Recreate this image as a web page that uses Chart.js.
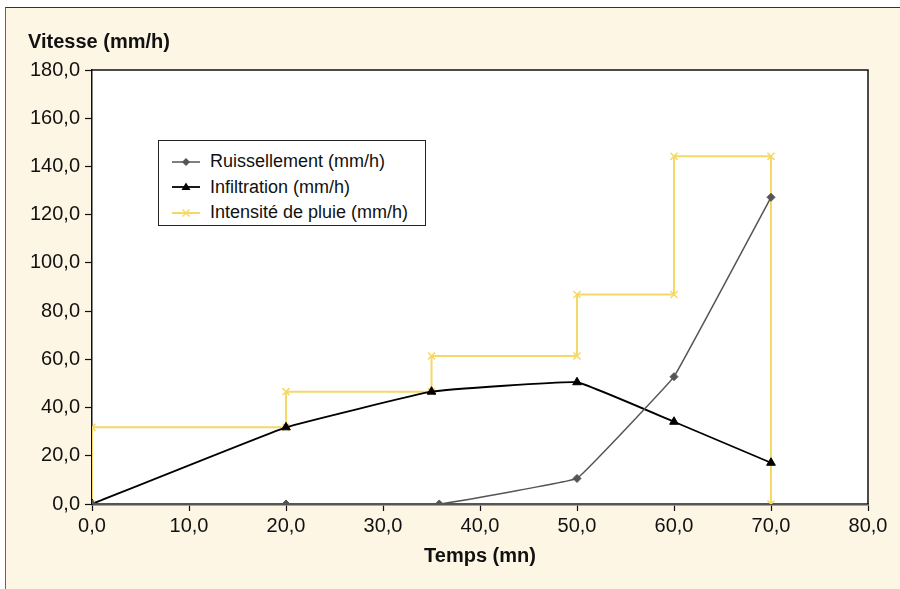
<!DOCTYPE html>
<html><head><meta charset="utf-8">
<script src="https://cdn.jsdelivr.net/npm/chart.js@4/dist/chart.umd.min.js"></script>
<style>
html,body{margin:0;padding:0;background:#fff;}
#wrap{position:relative;width:900px;height:589px;overflow:hidden;background:#fff;}
#frame{position:absolute;left:5px;top:7px;width:900px;height:590px;background:#fdf6e4;border-left:1.5px solid #666;border-top:1.5px solid #333;}
canvas{position:absolute;left:0;top:0;}
#legend{position:absolute;left:158px;top:140px;width:268px;height:86px;border:1.5px solid #222;background:#fff;font-family:"Liberation Sans",Arial,sans-serif;font-size:18px;color:#111;box-sizing:border-box;padding-top:8px;}
#legend .row{height:25.5px;line-height:25.5px;display:flex;align-items:center;white-space:nowrap;}
#legend svg{margin-left:13px;margin-right:10px;}
</style></head>
<body>
<div id="wrap">
<div id="frame"></div>
<canvas id="c" width="900" height="589"></canvas>
<div id="legend"></div>
</div>
<script>
// ---- data ----
const seriesNames = ["Ruissellement (mm/h)", "Infiltration (mm/h)", "Intensité de pluie (mm/h)"];
const timeRuissellement = [0, 20, 35.8, 50, 60, 70];
const ruissellement = [0, 0, 0, 10.6, 52.8, 127.2];
const timeInfiltration = [0, 20, 35, 50, 60, 70];
const infiltration = [0, 31.8, 46.6, 50.5, 34.1, 17.1];
const timePluie = [0, 0, 20, 20, 35, 35, 50, 50, 60, 60, 70, 70];
const intensitePluie = [0, 31.8, 31.8, 46.6, 46.6, 61.4, 61.4, 86.9, 86.9, 144.2, 144.2, 0];
const xTicks = [0, 10, 20, 30, 40, 50, 60, 70, 80];
const yTicks = [0, 20, 40, 60, 80, 100, 120, 140, 160, 180];
const xTitle = "Temps (mn)";
const yTitle = "Vitesse (mm/h)";

const FONT = '"Liberation Sans", Arial, Helvetica, sans-serif';
const colors = ["#555555", "#000000", "#f6d867"];
const styles = ["rectRot", "triangle", "crossRot"];

function pts(xs, ys){ return xs.map((x,i)=>({x:x, y:ys[i]})); }
const fmt = v => Number(v).toFixed(1).replace('.', ',');

const bgPlugin = {
  id:'bg',
  beforeDraw(chart){
    const {ctx, chartArea:a} = chart;
    ctx.save(); ctx.fillStyle='#fff'; ctx.fillRect(a.left,a.top,a.right-a.left,a.bottom-a.top); ctx.restore();
  },
  afterDraw(chart){
    const {ctx, chartArea:a} = chart;
    ctx.save();
    ctx.strokeStyle='#111'; ctx.lineWidth=1.5;
    ctx.beginPath(); ctx.moveTo(a.left,a.top); ctx.lineTo(a.right,a.top); ctx.lineTo(a.right,a.bottom); ctx.stroke();
    ctx.restore();
  }
};

const chart = new Chart(document.getElementById('c'), {
  type:'line',
  data:{
    datasets:[
      {label:seriesNames[0], data:pts(timeRuissellement, ruissellement), borderColor:colors[0], backgroundColor:colors[0], borderWidth:1.5, pointStyle:styles[0], pointRadius:4, pointBorderWidth:1, tension:0.05},
      {label:seriesNames[1], data:pts(timeInfiltration, infiltration), borderColor:colors[1], backgroundColor:colors[1], borderWidth:1.8, pointStyle:styles[1], pointRadius:5, pointBorderWidth:1, tension:0.08},
      {label:seriesNames[2], data:pts(timePluie, intensitePluie), borderColor:colors[2], backgroundColor:colors[2], borderWidth:2, pointStyle:styles[2], pointRadius:5, pointBorderWidth:1.5, tension:0}
    ]
  },
  options:{
    responsive:false, animation:false, devicePixelRatio:1,
    layout:{padding:{left:28, right:32, top:0, bottom:0}},
    plugins:{
      legend:{display:false}, tooltip:{enabled:false},
      title:{display:true, text:yTitle, align:'start', color:'#111', font:{family:FONT, size:20, weight:'bold'}, padding:{top:30, bottom:16}}
    },
    scales:{
      x:{type:'linear', min:0, max:80,
        afterBuildTicks(s){ s.ticks = xTicks.map(v=>({value:v})); },
        afterFit(s){ s.height = 85; },
        ticks:{callback:fmt, color:'#111', font:{family:FONT, size:20}, padding:3, maxRotation:0, autoSkip:false},
        grid:{display:true, drawOnChartArea:false, drawTicks:true, tickLength:7, tickColor:'#111', tickWidth:1.2},
        border:{display:true, color:'#555', width:2.5},
        title:{display:true, text:xTitle, color:'#111', font:{family:FONT, size:20, weight:'bold'}, padding:{top:0, bottom:21}}
      },
      y:{type:'linear', min:0, max:180,
        afterBuildTicks(s){ s.ticks = yTicks.map(v=>({value:v})); },
        afterFit(s){ s.width = 64; },
        ticks:{callback:fmt, color:'#111', font:{family:FONT, size:20}, padding:5, autoSkip:false},
        grid:{display:true, drawOnChartArea:false, drawTicks:true, tickLength:7, tickColor:'#111', tickWidth:1.2},
        border:{display:true, color:'#111', width:1.5}
      }
    }
  },
  plugins:[bgPlugin]
});

// HTML legend built from datasets
const leg = document.getElementById('legend');
chart.data.datasets.forEach((ds,i)=>{
  const row = document.createElement('div'); row.className='row';
  let marker='';
  const c = ds.borderColor;
  if (ds.pointStyle==='rectRot') marker = `<polygon points="14,7 18,11 14,15 10,11" fill="${c}"/>`;
  else if (ds.pointStyle==='triangle') marker = `<polygon points="14,6.5 18.5,14 9.5,14" fill="${c}"/>`;
  else marker = `<path d="M10.5,7.5 L17.5,14.5 M17.5,7.5 L10.5,14.5" stroke="${c}" stroke-width="1.5"/>`;
  row.innerHTML = `<svg width="28" height="22" viewBox="0 0 28 22"><line x1="0" y1="11" x2="28" y2="11" stroke="${c}" stroke-width="${ds.borderWidth}"/>${marker}</svg><span>${ds.label}</span>`;
  leg.appendChild(row);
});
</script>
</body></html>
